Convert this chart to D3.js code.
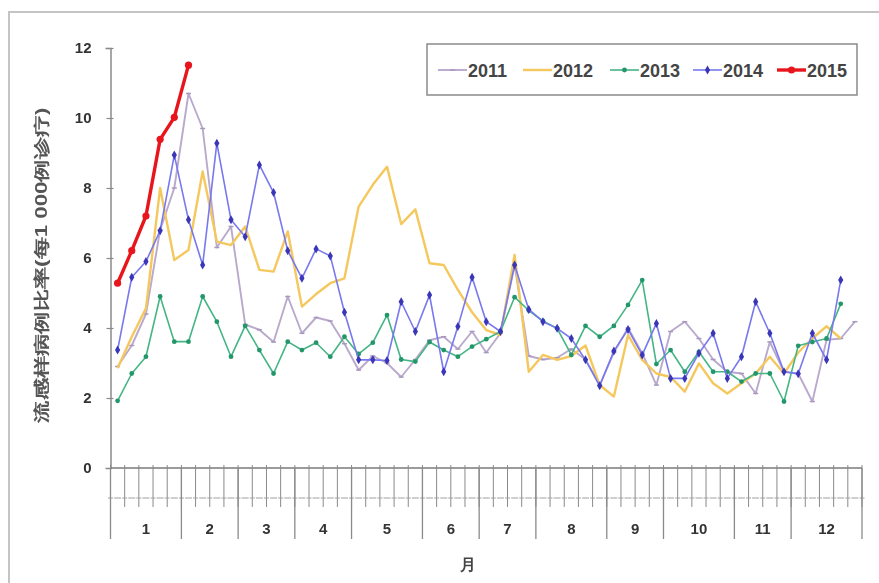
<!DOCTYPE html>
<html><head><meta charset="utf-8">
<script src="https://cdn.jsdelivr.net/npm/d3@7"></script>
<style>
html,body{margin:0;padding:0;background:#fff;}
svg{display:block;filter:blur(0.35px);}
text{font-family:"Liberation Sans",Arial,sans-serif;}
</style></head>
<body>
<div id="chart"></div>
<script>
const weeks = [1,2,3,4,5,6,7,8,9,10,11,12,13,14,15,16,17,18,19,20,21,22,23,24,25,26,27,28,29,30,31,32,33,34,35,36,37,38,39,40,41,42,43,44,45,46,47,48,49,50,51,52,53];
const months = ["1","2","3","4","5","6","7","8","9","10","11","12"];
const monthWeeks = [5,4,4,4,5,4,4,5,4,5,4,5];
const yTicks = [0,2,4,6,8,10,12];
const seriesNames = ["2011","2012","2013","2014","2015"];

const s2011 = [2.9,3.5,4.4,6.8,8.0,10.7,9.7,6.3,6.9,4.1,3.95,3.6,4.9,3.85,4.3,4.2,3.55,2.8,3.2,3.0,2.6,3.1,3.65,3.75,3.4,3.9,3.3,3.85,5.8,3.2,3.1,3.15,3.4,3.1,2.37,3.3,4.0,3.28,2.37,3.9,4.18,3.7,3.1,2.75,2.7,2.13,3.6,2.75,2.7,1.9,3.66,3.7,4.18];
const s2012 = [2.85,3.75,4.56,8.0,5.94,6.23,8.47,6.47,6.37,6.9,5.66,5.61,6.76,4.61,4.97,5.28,5.42,7.47,8.09,8.61,6.97,7.39,5.85,5.8,5.09,4.45,3.94,3.8,6.09,2.75,3.23,3.09,3.2,3.5,2.37,2.04,3.8,3.09,2.7,2.6,2.18,2.99,2.42,2.13,2.42,2.7,3.18,2.7,3.3,3.7,4.05,3.7];
const s2013 = [1.92,2.7,3.18,4.9,3.61,3.61,4.9,4.18,3.18,4.06,3.37,2.7,3.61,3.37,3.58,3.18,3.75,3.26,3.58,4.37,3.1,3.04,3.6,3.37,3.18,3.47,3.68,3.9,4.88,4.5,4.2,3.99,3.23,4.06,3.75,4.06,4.66,5.37,2.97,3.37,2.75,3.32,2.75,2.75,2.47,2.7,2.7,1.9,3.49,3.6,3.7,4.69];
const s2014 = [3.37,5.45,5.9,6.78,8.94,7.09,5.8,9.28,7.09,6.61,8.66,7.87,6.21,5.42,6.26,6.06,4.45,3.09,3.09,3.07,4.75,3.9,4.94,2.75,4.04,5.45,4.18,3.9,5.8,4.53,4.18,3.99,3.7,3.09,2.35,3.34,3.96,3.23,4.13,2.56,2.56,3.28,3.85,2.56,3.18,4.75,3.85,2.75,2.69,3.85,3.09,5.37];
const s2015 = [5.28,6.21,7.2,9.39,10.02,11.51];

const styles = {
  "2011": {color:"#b9a9cc", width:1.9, marker:"dash", mcolor:"#a898bf"},
  "2012": {color:"#f5c85e", width:2.4, marker:"none", mcolor:"#f5c85e"},
  "2013": {color:"#45b585", width:1.6, marker:"circle", mcolor:"#23966a", r:2.4},
  "2014": {color:"#7878ef", width:1.6, marker:"diamond", mcolor:"#3a36b8", r:2.8},
  "2015": {color:"#e8161c", width:3.4, marker:"circle", mcolor:"#e8161c", r:3.6}
};
const seriesData = {"2011":s2011,"2012":s2012,"2013":s2013,"2014":s2014,"2015":s2015};

const W = 879, H = 583;
const svg = d3.select("#chart").append("svg").attr("width",W).attr("height",H);

// outer frame
svg.append("rect").attr("x",9).attr("y",12).attr("width",W+20).attr("height",H+20)
  .attr("fill","none").attr("stroke","#c4c4c4").attr("stroke-width",2);

const x = d3.scaleBand().domain(weeks).range([110.5, 862]).padding(0);
const y = d3.scaleLinear().domain([0,12]).range([468,48]);

// y axis
const yAxis = d3.axisLeft(y).tickValues(yTicks).tickSize(5).tickPadding(14).tickFormat(d3.format("d"));
const gy = svg.append("g").attr("transform","translate(110.5,0)").call(yAxis);
gy.select(".domain").attr("stroke","#8a8a8a").attr("stroke-width",1.5);
gy.selectAll(".tick line").attr("stroke","#8a8a8a").attr("stroke-width",1.2).attr("x2",-4).attr("x1",3);
gy.selectAll(".tick text").attr("font-size",15).attr("font-weight","bold").attr("fill","#333");
gy.selectAll(".tick").filter(d=>d===0).select("line").remove();

// x axis line
svg.append("line").attr("x1",110.5).attr("x2",862).attr("y1",y(0)).attr("y2",y(0))
  .attr("stroke","#7a7a7a").attr("stroke-width",1.5);

// week ticks
const wkBounds = weeks.map(w => x(w)).concat([x(53)+x.bandwidth()]);
svg.append("g").selectAll("line").data(wkBounds).join("line")
  .attr("x1",d=>d).attr("x2",d=>d).attr("y1",y(0)-3).attr("y2",507)
  .attr("stroke","#8a8a8a").attr("stroke-width",1);

// dashed second-level row
svg.append("g").selectAll("line").data(weeks).join("line")
  .attr("x1",d=>x(d)+x.bandwidth()/2-3.5).attr("x2",d=>x(d)+x.bandwidth()/2+3.5)
  .attr("y1",498).attr("y2",498).attr("stroke","#a0a0a0").attr("stroke-width",1);
svg.append("g").selectAll("line").data(wkBounds).join("line")
  .attr("x1",d=>d-2.5).attr("x2",d=>d+2.5).attr("y1",498).attr("y2",498)
  .attr("stroke","#a0a0a0").attr("stroke-width",1);

// month boundaries and labels
let cum = 0;
const monthInfo = months.map((m,i)=>{ const s = cum; cum += monthWeeks[i]; return {m, start:weeks[s], end:weeks[cum-1]}; });
const mBounds = [x(monthInfo[0].start)].concat(monthInfo.map(d=>x(d.end)+x.bandwidth()));
svg.append("g").selectAll("line").data(mBounds).join("line")
  .attr("x1",d=>d).attr("x2",d=>d).attr("y1",y(0)).attr("y2",539)
  .attr("stroke","#8a8a8a").attr("stroke-width",1.3);
svg.append("g").selectAll("text").data(monthInfo).join("text")
  .attr("x",d=>(x(d.start)+x(d.end)+x.bandwidth())/2).attr("y",534)
  .attr("text-anchor","middle").attr("font-size",15).attr("font-weight","bold").attr("fill","#333")
  .text(d=>d.m);

// x title
svg.append("text").attr("x",468).attr("y",570).attr("text-anchor","middle")
  .attr("font-family","Noto Sans CJK SC").attr("font-size",16).attr("font-weight","bold").attr("fill","#444")
  .text("月");

// y title
svg.append("text").attr("transform","translate(47,265) rotate(-90)").attr("text-anchor","middle")
  .attr("font-family","Noto Sans CJK SC").attr("font-size",16).attr("font-weight","bold").attr("fill","#555")
  .attr("textLength",315).attr("lengthAdjust","spacingAndGlyphs")
  .text("流感样病例比率(每1 000例诊疗)");

// series
const line = d3.line().x((d,i)=>x(weeks[i])+x.bandwidth()/2).y(d=>y(d));
const plot = svg.append("g");
function drawMarkers(g, name, pts){
  const st = styles[name];
  if(st.marker==="circle"){
    g.selectAll("circle").data(pts).join("circle")
      .attr("cx",d=>d[0]).attr("cy",d=>d[1]).attr("r",st.r).attr("fill",st.mcolor);
  } else if(st.marker==="diamond"){
    g.selectAll("path.m").data(pts).join("path").attr("class","m")
      .attr("d",d3.symbol().type(d3.symbolDiamond).size(st.r*st.r*3))
      .attr("transform",d=>`translate(${d[0]},${d[1]})`).attr("fill",st.mcolor);
  } else if(st.marker==="dash"){
    g.selectAll("line.m").data(pts).join("line").attr("class","m")
      .attr("x1",d=>d[0]-2.5).attr("x2",d=>d[0]+2.5).attr("y1",d=>d[1]).attr("y2",d=>d[1])
      .attr("stroke",st.mcolor).attr("stroke-width",1.5);
  }
}
seriesNames.forEach(name=>{
  const vals = seriesData[name], st = styles[name];
  const g = plot.append("g");
  g.append("path").datum(vals).attr("d",line).attr("fill","none")
    .attr("stroke",st.color).attr("stroke-width",st.width).attr("stroke-linejoin","round");
  const pts = vals.map((v,i)=>[x(weeks[i])+x.bandwidth()/2, y(v)]);
  drawMarkers(g, name, pts);
});

// legend
const lg = svg.append("g");
lg.append("rect").attr("x",427).attr("y",44).attr("width",430).attr("height",51)
  .attr("fill","#fff").attr("stroke","#8a8a8a").attr("stroke-width",1.5);
const legX = [438,523,610,693,777];
seriesNames.forEach((name,i)=>{
  const st = styles[name];
  const g = lg.append("g");
  g.append("line").attr("x1",legX[i]).attr("x2",legX[i]+29).attr("y1",70).attr("y2",70)
    .attr("stroke",st.color).attr("stroke-width",st.width);
  drawMarkers(g, name, [[legX[i]+14.5,70]]);
  g.append("text").attr("x",legX[i]+30).attr("y",77).attr("font-size",18).attr("font-weight","bold")
    .attr("fill","#444").text(name);
});
</script>
</body></html>
